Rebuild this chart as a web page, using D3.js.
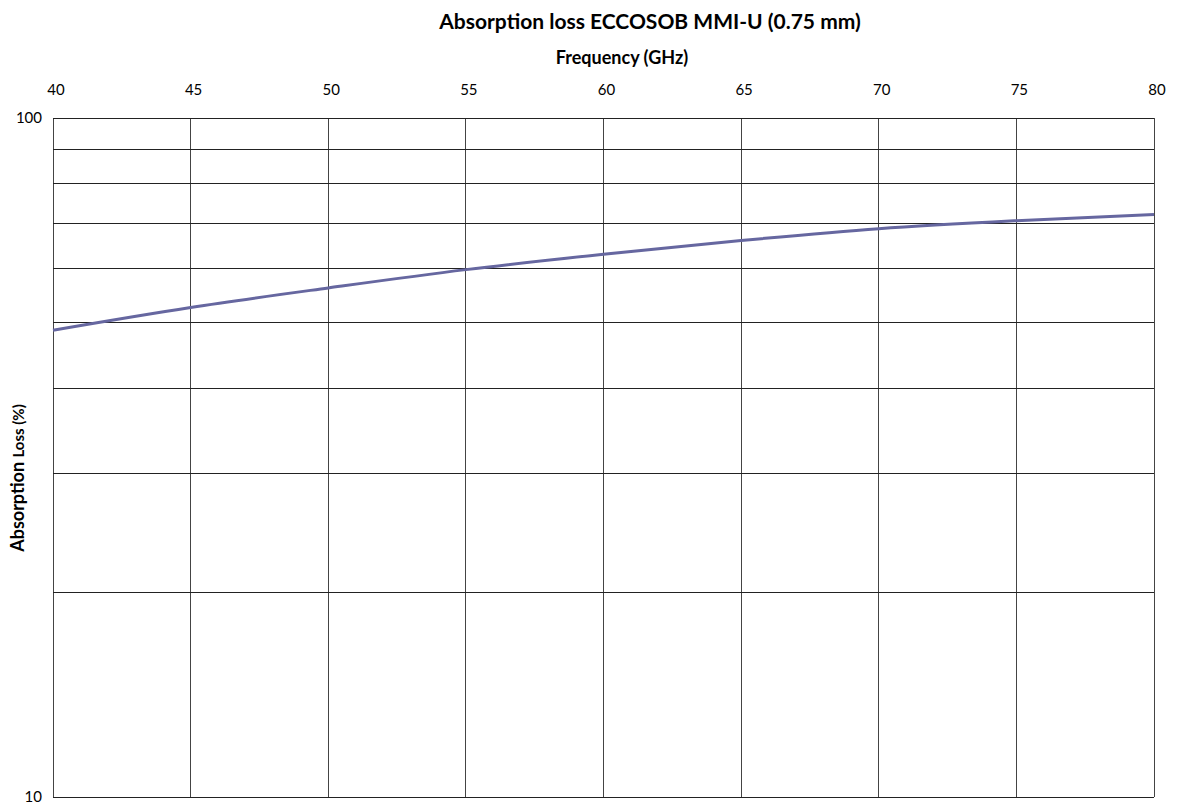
<!DOCTYPE html>
<html>
<head>
<meta charset="utf-8">
<script src="https://cdn.jsdelivr.net/npm/d3@7"></script>
<style>
  body { margin: 0; background: #fff; }
  svg text { font-family: Lato, "Open Sans", sans-serif; fill: #000; }
</style>
</head>
<body>
<div id="chart"></div>
<script>
// Values
const freqs = [40, 45, 50, 55, 60, 65, 70, 75, 80];
const lossPct = [48.7, 52.6, 56.2, 59.8, 63.0, 66.0, 68.7, 70.6, 72.1];
const xTicks = [40, 45, 50, 55, 60, 65, 70, 75, 80];
const yGrid = [10, 20, 30, 40, 50, 60, 70, 80, 90, 100];
const yLabels = [10, 100];

const width = 1178, height = 807;
const margin = { top: 118, right: 24, bottom: 10, left: 53 };

const svg = d3.select("#chart").append("svg")
  .attr("width", width)
  .attr("height", height);

const x = d3.scaleLinear().domain([40, 80]).range([margin.left, width - margin.right]);
const y = d3.scaleLog().domain([10, 100]).range([height - margin.bottom, margin.top]);

// gridlines
svg.append("g")
  .selectAll("line.v")
  .data(xTicks)
  .join("line")
  .attr("x1", d => x(d)).attr("x2", d => x(d))
  .attr("y1", y(100)).attr("y2", y(10))
  .attr("stroke", "#444").attr("stroke-width", 1)
  .attr("shape-rendering", "crispEdges");

svg.append("g")
  .selectAll("line.h")
  .data(yGrid)
  .join("line")
  .attr("x1", x(40)).attr("x2", x(80))
  .attr("y1", d => y(d)).attr("y2", d => y(d))
  .attr("stroke", "#222").attr("stroke-width", 1)
  .attr("shape-rendering", "crispEdges");

// top axis labels
svg.append("g")
  .selectAll("text")
  .data(xTicks)
  .join("text")
  .attr("x", d => x(d) + 3)
  .attr("y", 95)
  .attr("text-anchor", "middle")
  .style("font-size", "15px")
  .text(d => d);

// y labels (only the decades)
svg.append("g")
  .selectAll("text")
  .data(yLabels)
  .join("text")
  .attr("x", 42)
  .attr("y", d => y(d) + 5)
  .attr("text-anchor", "end")
  .style("font-size", "15px")
  .text(d => d);

// series
const line = d3.line()
  .x((d, i) => x(freqs[i]))
  .y(d => y(d))
  .curve(d3.curveMonotoneX);

svg.append("path")
  .datum(lossPct)
  .attr("d", line)
  .attr("fill", "none")
  .attr("stroke", "#6667a0")
  .attr("stroke-width", 3);

// titles
svg.append("text")
  .attr("x", 650)
  .attr("y", 29)
  .attr("text-anchor", "middle")
  .style("font-size", "21px")
  .style("font-weight", "bold")
  .text("Absorption loss ECCOSOB MMI-U (0.75 mm)");

svg.append("text")
  .attr("x", 622)
  .attr("y", 64)
  .attr("text-anchor", "middle")
  .style("font-size", "18px")
  .style("font-weight", "bold")
  .text("Frequency (GHz)");

const yt = svg.append("text")
  .attr("transform", "translate(24,478) rotate(-90)")
  .attr("text-anchor", "middle")
  .style("font-weight", "bold");
yt.append("tspan").style("font-size", "18px").text("Absorption ");
yt.append("tspan").style("font-size", "15px").text("Loss (%)");
</script>
</body>
</html>
